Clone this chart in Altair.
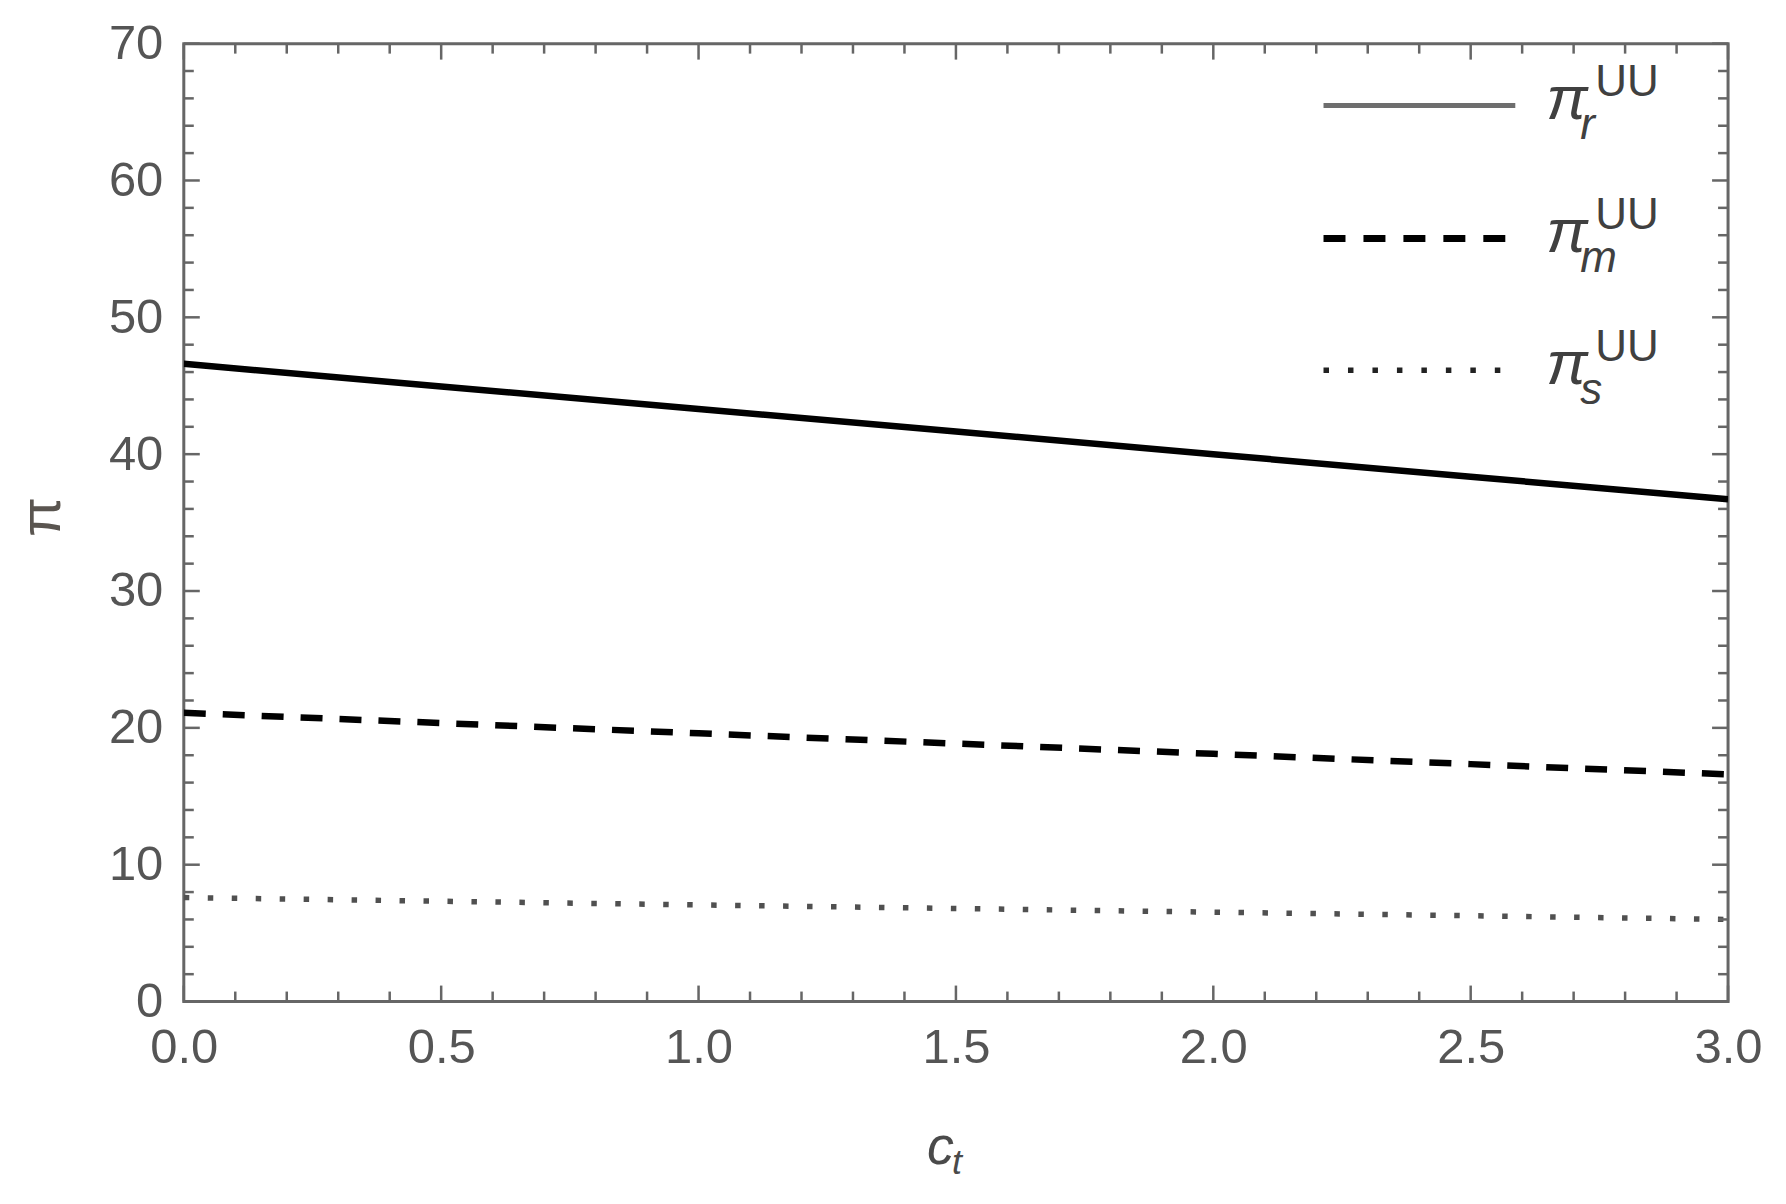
import altair as alt
import pandas as pd
import numpy as np

# ---- data ----
c_t = [0.0, 0.5, 1.0, 1.5, 2.0, 2.5, 3.0]
pi_r = [46.6, 44.95, 43.3, 41.65, 40.0, 38.35, 36.7]
pi_m = [21.1, 20.35, 19.6, 18.85, 18.1, 17.35, 16.6]
pi_s = [7.6, 7.33, 7.06, 6.8, 6.53, 6.27, 6.0]

x_major = [0.0, 0.5, 1.0, 1.5, 2.0, 2.5, 3.0]
y_major = [0, 10, 20, 30, 40, 50, 60, 70]
x_minor = [round(v, 1) for v in np.arange(0.1, 3.0, 0.1) if round(v * 10) % 5 != 0]
y_minor = [v for v in range(2, 70, 2) if v % 10 != 0]

legend_sub = ["r", "m", "s"]
legend_sup = "UU"

W, H = 1546, 959
FRAME = "#666666"
LABEL = "#555555"
FONT = "Liberation Sans"

xscale = alt.Scale(domain=[0, 3], nice=False, zero=False)
yscale = alt.Scale(domain=[0, 70], nice=False, zero=False)

xaxis = alt.Axis(values=x_major, format=".1f", labelFontSize=49, labelFont=FONT,
                 labelColor=LABEL, ticks=False, domain=False, grid=False,
                 labelPadding=22, labelFlush=False, title=None)
yaxis = alt.Axis(values=y_major, format="d", labelFontSize=49, labelFont=FONT,
                 labelColor=LABEL, ticks=False, domain=False, grid=False,
                 labelPadding=21, labelFlush=False, title=None)


def series_layer(vals, color, width, dash=None):
    df = pd.DataFrame({"c_t": c_t, "pi": vals})
    kw = dict(color=color, strokeWidth=width, clip=True)
    if dash:
        kw["strokeDash"] = dash
    return alt.Chart(df).mark_line(**kw).encode(
        x=alt.X("c_t:Q", scale=xscale, axis=xaxis),
        y=alt.Y("pi:Q", scale=yscale, axis=yaxis),
    )


def tick_layer(values, orient, length):
    df = pd.DataFrame({"v": values})
    m = alt.Chart(df).mark_rule(color=FRAME, strokeWidth=2.5)
    if orient in ("bottom", "top"):
        x = alt.X("v:Q", scale=xscale, axis=xaxis)
        if orient == "bottom":
            return m.encode(x=x, y=alt.value(H), y2=alt.value(H - length))
        return m.encode(x=x, y=alt.value(0), y2=alt.value(length))
    y = alt.Y("v:Q", scale=yscale, axis=yaxis)
    if orient == "left":
        return m.encode(y=y, x=alt.value(0), x2=alt.value(length))
    return m.encode(y=y, x=alt.value(W), x2=alt.value(W - length))


def text_layer(s, x, y, size, color, style="normal", angle=0, align="left",
               baseline="alphabetic", font=FONT):
    df = pd.DataFrame({"t": [s]})
    return alt.Chart(df).mark_text(fontSize=size, font=font, fontStyle=style,
                                   color=color, angle=angle, align=align,
                                   baseline=baseline).encode(
        x=alt.value(x), y=alt.value(y), text="t:N")


def legend_line(x1, x2, y, color, width, dash=None):
    df = pd.DataFrame({"k": [0]})
    kw = dict(color=color, strokeWidth=width)
    if dash:
        kw["strokeDash"] = dash
    return alt.Chart(df).mark_rule(**kw).encode(
        x=alt.value(x1), x2=alt.value(x2), y=alt.value(y))


layers = [
    series_layer(pi_r, "#000000", 6.5),
    series_layer(pi_m, "#000000", 6.5, dash=[22, 17]),
    series_layer(pi_s, "#505050", 5.5, dash=[5.5, 18.5]),
]

for o in ("bottom", "top"):
    layers.append(tick_layer(x_major, o, 16))
    layers.append(tick_layer(x_minor, o, 10))
for o in ("left", "right"):
    layers.append(tick_layer(y_major, o, 16))
    layers.append(tick_layer(y_minor, o, 10))

# axis titles
layers.append(text_layer("π", -141, 474, 58, "#5a5550", angle=270, align="center",
                         baseline="middle"))
layers.append(text_layer("c", 744, 1122, 54, "#4a4a4a", style="italic"))
layers.append(text_layer("t", 769, 1132, 36, "#4a4a4a", style="italic"))

# legend
legend_y = [62, 195, 327]
legend_line_styles = [("#6e6e6e", 5, None), ("#000000", 7, [22, 18]), ("#222222", 5.5, [5.5, 19])]
for i, (ly, (col, w, dash)) in enumerate(zip(legend_y, legend_line_styles)):
    layers.append(legend_line(1141, 1333 if dash is None else 1323, ly, col, w, dash))
    base = [75, 209, 341][i]
    layers.append(text_layer("π", 1364, base, 62, "#404040", style="italic"))
    layers.append(text_layer(legend_sub[i], 1398, base + 20, 44, "#404040", style="italic"))
    layers.append(text_layer(legend_sup, 1413, base - 23, 44, "#404040"))

chart = alt.layer(*layers).properties(
    width=W, height=H,
    autosize=alt.AutoSizeParams(type="none"),
    padding={"left": 176, "top": 35, "right": 50, "bottom": 195},
).configure(background="white").configure_view(stroke=FRAME, strokeWidth=3)

chart.save("out.html", embed_options={"renderer": "svg", "actions": False})
